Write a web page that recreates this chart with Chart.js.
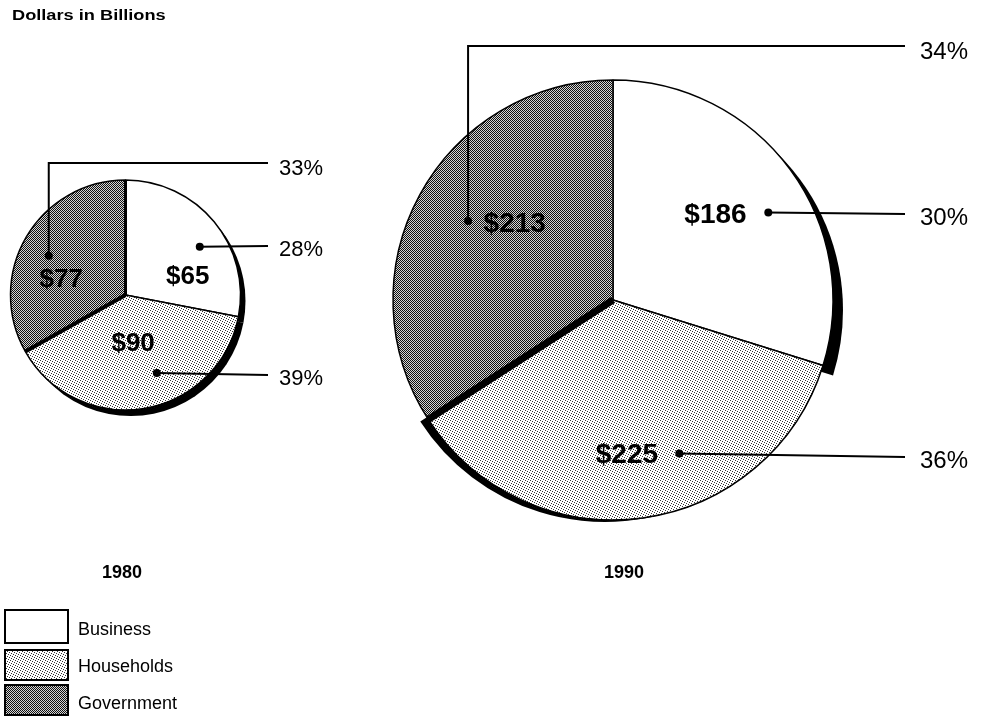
<!DOCTYPE html>
<html>
<head>
<meta charset="utf-8">
<script src="https://cdn.jsdelivr.net/npm/chart.js@4.4.1/dist/chart.umd.min.js"></script>
<style>
  html, body { margin: 0; padding: 0; background: #fff; }
  #wrap { position: relative; width: 986px; height: 719px; overflow: hidden; }
  #wrap canvas { position: absolute; left: 0; top: 0; }
</style>
</head>
<body>
<div id="wrap">
  <canvas id="pie1980" width="986" height="719"></canvas>
  <canvas id="pie1990" width="986" height="719"></canvas>
</div>
<script>
// Data
const categories = ["Business", "Households", "Government"];
const years = ["1980", "1990"];
const values1980 = [65, 90, 77];
const values1990 = [186, 225, 213];
const shares1980 = [28, 39, 33];
const shares1990 = [30, 36, 34];
const unitTitle = "Dollars in Billions";

const W = 986, H = 719;
const FONT = '"Liberation Sans", Arial, Helvetica, sans-serif';

// Textures (scan-like halftones)
function makePattern(rows, ink, paper) {
  const c = document.createElement("canvas");
  c.width = rows[0].length;
  c.height = rows.length;
  const g = c.getContext("2d");
  g.fillStyle = paper;
  g.fillRect(0, 0, c.width, c.height);
  g.fillStyle = ink;
  rows.forEach((row, y) => {
    for (let x = 0; x < row.length; x++) if (row[x] === "#") g.fillRect(x, y, 1, 1);
  });
  return g.createPattern(c, "repeat");
}
const hhPattern = makePattern(["#....", "..#..", "....#", ".#...", "...#."], "#333333", "#ffffff");
const govPattern = makePattern(["#.#.", ".#.#", "#.#.", ".#.#"], "#111111", "#d4d4d4");
const sliceFills = ["#ffffff", hhPattern, govPattern];

// Layout of each pie (positions and styles only)
const layout1980 = {
  cx: 124, cy: 295, r: 115,
  shadow: [[5, 6], [5, 6], [5, 6]],
  seams: [[2, "start", 4], [2, "end", 3]],
  valueFont: 26, valuePos: [[0.71, 0.57], [0.5, 0.41], [0.375, 0.58]],
  dotPos: [[0.565, 0.77], [0.41, 0.73], [0.474, 0.75]],
  pctX: 279, pctGap: 11, pctFont: 22, pctY: [248, 377, 167], elbow: [false, false, true],
  yearX: 122, yearY: 572,
};
const layout1990 = {
  cx: 613, cy: 300, r: 220,
  shadow: [[10, 10], [-8, 2], null],
  seams: [[2, "start", 7]],
  valueFont: 28, valuePos: [[0.464, 0.61], [0.52, 0.70], [0.58, 0.57]],
  dotPos: [[0.565, 0.81], [0.38, 0.76], [0.50, 0.75]],
  pctX: 920, pctGap: 15, pctFont: 24, pctY: [216, 459, 50], elbow: [false, false, true],
  yearX: 624, yearY: 572,
};

function capText(ctx, text, x, cy, size, bold, align, scaleX) {
  ctx.save();
  ctx.font = (bold ? "bold " : "") + size + "px " + FONT;
  ctx.textAlign = align || "left";
  ctx.textBaseline = "alphabetic";
  ctx.translate(x, cy + size * 0.36);
  ctx.scale(scaleX || 1, 1);
  ctx.fillText(text, 0, 0);
  ctx.restore();
}

function makeNotes(values, shares, year, lay, withLegend) {
  const props = ["x", "y", "startAngle", "endAngle", "outerRadius"];
  const at = (arc, t, f) => {
    const p = arc.getProps(props, true);
    const a = p.startAngle + t * (p.endAngle - p.startAngle);
    return { x: p.x + Math.cos(a) * f * p.outerRadius, y: p.y + Math.sin(a) * f * p.outerRadius };
  };
  return {
    id: "notes" + year,
    beforeDatasetsDraw(chart) {
      const ctx = chart.ctx;
      const arcs = chart.getDatasetMeta(0).data;
      ctx.save();
      ctx.fillStyle = "#000";
      arcs.forEach((arc, i) => {
        const s = lay.shadow[i];
        if (!s) return;
        const p = arc.getProps(props, true);
        ctx.beginPath();
        ctx.moveTo(p.x + s[0], p.y + s[1]);
        ctx.arc(p.x + s[0], p.y + s[1], p.outerRadius, p.startAngle, p.endAngle);
        ctx.closePath();
        ctx.fill();
      });
      ctx.restore();
    },
    afterDatasetsDraw(chart) {
      const ctx = chart.ctx;
      const arcs = chart.getDatasetMeta(0).data;
      ctx.save();
      ctx.strokeStyle = "#000";
      ctx.fillStyle = "#000";

      // thick seams between slices
      lay.seams.forEach(([i, edge, w]) => {
        const p = arcs[i].getProps(props, true);
        const a = edge === "start" ? p.startAngle : p.endAngle;
        ctx.lineWidth = w;
        ctx.beginPath();
        ctx.moveTo(p.x, p.y);
        ctx.lineTo(p.x + Math.cos(a) * p.outerRadius, p.y + Math.sin(a) * p.outerRadius);
        ctx.stroke();
      });

      arcs.forEach((arc, i) => {
        // value label
        const v = at(arc, lay.valuePos[i][0], lay.valuePos[i][1]);
        capText(ctx, "$" + values[i], v.x, v.y, lay.valueFont, true, "center");

        // dot + leader line + share
        const d = at(arc, lay.dotPos[i][0], lay.dotPos[i][1]);
        const endX = lay.pctX - lay.pctGap;
        ctx.lineWidth = 2;
        ctx.beginPath();
        ctx.moveTo(d.x, d.y);
        if (lay.elbow[i]) {
          ctx.lineTo(d.x, lay.pctY[i] - 4);
          ctx.lineTo(endX, lay.pctY[i] - 4);
        } else {
          ctx.lineTo(endX, lay.pctY[i] - 2);
        }
        ctx.stroke();
        ctx.beginPath();
        ctx.arc(d.x, d.y, 4, 0, Math.PI * 2);
        ctx.fill();
        capText(ctx, shares[i] + "%", lay.pctX, lay.pctY[i], lay.pctFont, false, "left");
      });

      capText(ctx, year, lay.yearX, lay.yearY, 18, true, "center");

      if (withLegend) {
        capText(ctx, unitTitle, 12, 15, 14, true, "left", 1.3);
        const boxes = [[5, 610, 63, 33], [5, 650, 63, 30], [5, 685, 63, 30]];
        const textY = [629, 666, 703];
        categories.forEach((name, i) => {
          const [bx, by, bw, bh] = boxes[i];
          ctx.fillStyle = sliceFills[i];
          ctx.fillRect(bx, by, bw, bh);
          ctx.lineWidth = 2;
          ctx.strokeStyle = "#000";
          ctx.strokeRect(bx, by, bw, bh);
          ctx.fillStyle = "#000";
          capText(ctx, name, 78, textY[i], 18, false, "left");
        });
      }
      ctx.restore();
    },
  };
}

function pieChart(canvasId, values, shares, year, lay, withLegend) {
  const m = 12;
  return new Chart(document.getElementById(canvasId), {
    type: "pie",
    data: {
      labels: categories,
      datasets: [{
        data: values,
        backgroundColor: sliceFills,
        borderColor: "#000",
        borderWidth: 1.5,
        hoverOffset: 0,
        hoverBorderWidth: 1.5,
      }],
    },
    options: {
      responsive: false,
      animation: false,
      events: [],
      radius: lay.r,
      layout: {
        padding: {
          left: lay.cx - lay.r - m,
          right: W - (lay.cx + lay.r + m),
          top: lay.cy - lay.r - m,
          bottom: H - (lay.cy + lay.r + m),
        },
      },
      plugins: {
        legend: { display: false },
        tooltip: { enabled: false },
      },
    },
    plugins: [makeNotes(values, shares, year, lay, withLegend)],
  });
}

pieChart("pie1980", values1980, shares1980, years[0], layout1980, true);
pieChart("pie1990", values1990, shares1990, years[1], layout1990, false);
</script>
</body>
</html>
